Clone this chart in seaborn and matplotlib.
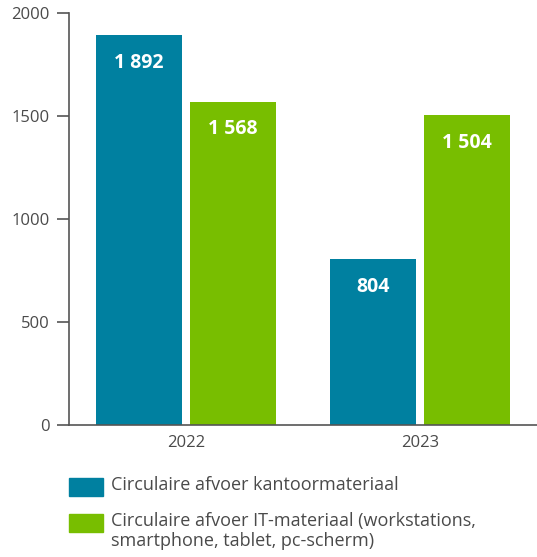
import matplotlib
matplotlib.use("Agg")
import matplotlib.pyplot as plt
import matplotlib.patches as mpatches
import seaborn as sns
import pandas as pd

## Data
years = ["2022", "2023"]
kantoor = [1892, 804]
it_materiaal = [1568, 1504]
series_names = ["Circulaire afvoer kantoormateriaal",
                "Circulaire afvoer IT-materiaal (workstations,\nsmartphone, tablet, pc-scherm)"]
colors = ["#0080A0", "#78BE00"]

df = pd.DataFrame({
    "jaar": years * 2,
    "waarde": kantoor + it_materiaal,
    "reeks": [series_names[0]] * 2 + [series_names[1]] * 2,
})

sns.set_style("white")
plt.rcParams["font.family"] = ["Open Sans", "DejaVu Sans"]

W, H = 537, 557
fig = plt.figure(figsize=(W / 100, H / 100), dpi=100)
ax = fig.add_axes([0.1285, 0.237, 0.8715, 0.7397])

sns.barplot(data=df, x="jaar", y="waarde", hue="reeks", palette=colors,
            width=0.80, gap=0.085, saturation=1, linewidth=0,
            legend=False, ax=ax)

## Bar value labels, white bold inside the top of each bar
for cont in ax.containers:
    labels = [f"{int(b.get_height()):,}".replace(",", " ") for b in cont]
    ax.bar_label(cont, labels=labels, label_type="edge", padding=-27,
                 color="white", fontsize=14, fontweight="bold")

ax.set_ylim(0, 2000)
ax.set_xlim(-0.5, 1.5)
ax.set_yticks([0, 500, 1000, 1500, 2000])
ax.set_xlabel("")
ax.set_ylabel("")
for s in ["top", "right"]:
    ax.spines[s].set_visible(False)
for s in ["left", "bottom"]:
    ax.spines[s].set_color("#555555")
    ax.spines[s].set_linewidth(1.2)
ax.tick_params(axis="y", length=9, width=1.2, color="#555555", labelsize=12,
               labelcolor="#4a4a4a", left=True, pad=5)
ax.tick_params(axis="x", length=0, labelsize=12, labelcolor="#4a4a4a", pad=7)

## Legend drawn by hand so the swatch lines up with the first text line
legend_rows = [(487, 0), (523, 1)]  # (pixel y of first line centre, series index)
for y_px, i in legend_rows:
    fig.patches.append(mpatches.Rectangle(
        (69 / W, 1 - (y_px + 9) / H), 34 / W, 18 / H,
        transform=fig.transFigure, color=colors[i], figure=fig))
    fig.text(111 / W, 1 - (y_px - 11) / H, series_names[i], ha="left", va="top",
             fontsize=13, color="#4a4a4a", linespacing=1.17)

fig.savefig("out.png", dpi=100)
